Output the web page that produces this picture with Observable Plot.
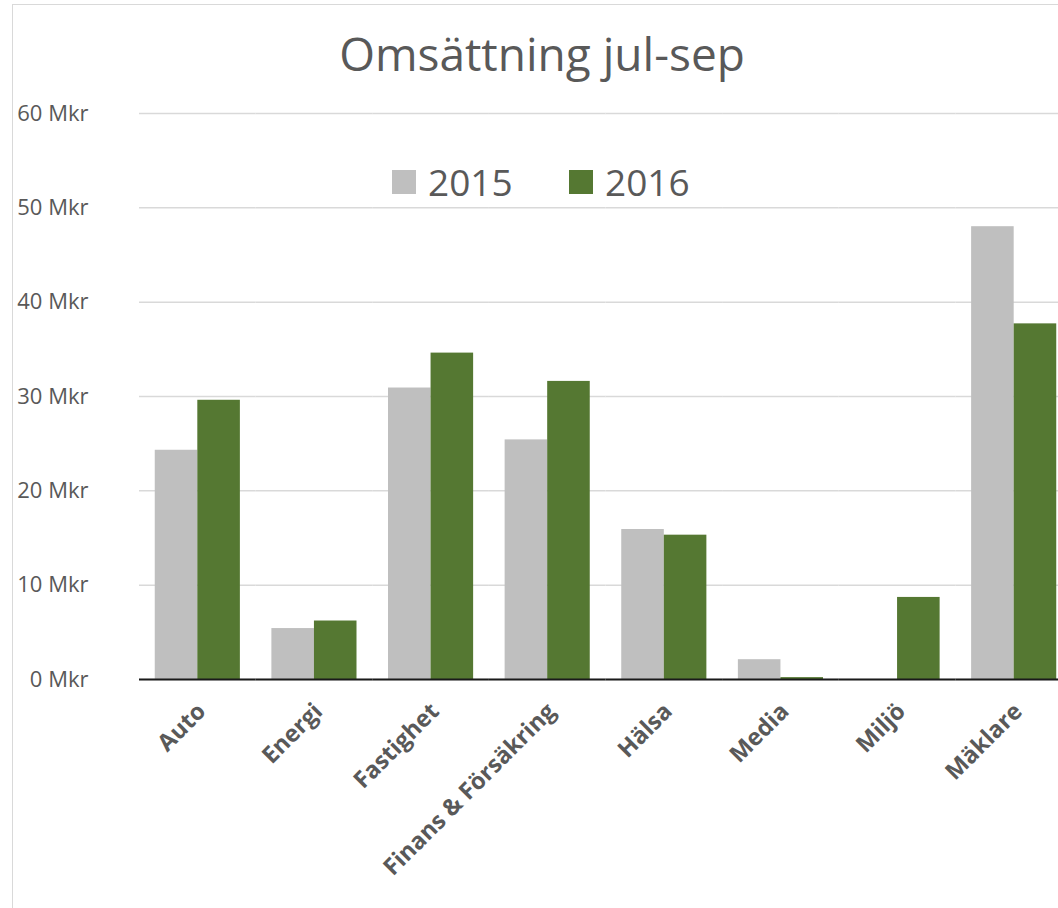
<!DOCTYPE html>
<html>
<head>
<meta charset="utf-8">
<script src="https://cdn.jsdelivr.net/npm/d3@7"></script>
<script src="https://cdn.jsdelivr.net/npm/@observablehq/plot@0.6"></script>
<style>
  html, body { margin: 0; padding: 0; background: #fff; overflow: hidden; width: 1058px; height: 908px; }
  #frame { position: absolute; left: 12px; top: 4px; width: 1100px; height: 960px; border: 1.5px solid #d9d9d9; box-sizing: border-box; }
  #chart { position: absolute; left: 0; top: 0; }
  #title { position: absolute; left: 0; width: 1084px; top: 30px; text-align: center; font-family: "Open Sans", sans-serif; font-size: 46px; color: #595959; line-height: 1; }
  .leg { position: absolute; top: 163px; font-family: "Open Sans", sans-serif; font-size: 37px; color: #595959; line-height: 1; display: flex; align-items: center; }
  .sw { width: 24px; height: 24px; display: inline-block; margin-right: 12px; }
</style>
</head>
<body>
<div id="frame"></div>
<div id="chart"></div>
<div id="title">Omsättning jul-sep</div>
<div id="legend"></div>
<script>
const categories = ["Auto", "Energi", "Fastighet", "Finans & Försäkring", "Hälsa", "Media", "Miljö", "Mäklare"];
const years = ["2015", "2016"];
const values2015 = [24.3, 5.4, 30.9, 25.4, 15.9, 2.1, 0, 48.0];
const values2016 = [29.6, 6.2, 34.6, 31.6, 15.3, 0.2, 8.7, 37.7];
const yTicks = [0, 10, 20, 30, 40, 50, 60];
const colors = ["#bfbfbf", "#557832"];

const data = [];
categories.forEach((c, i) => {
  data.push({category: c, year: years[0], value: values2015[i]});
  data.push({category: c, year: years[1], value: values2016[i]});
});

const chart = Plot.plot({
  width: 1075,
  height: 908,
  marginTop: 113,
  marginBottom: 229,
  marginLeft: 139,
  marginRight: 3,
  style: {maxWidth: "none", background: "transparent", overflow: "visible"},
  fx: {domain: categories, paddingInner: 0, paddingOuter: 0, round: false, label: null},
  x: {domain: years, axis: null, paddingInner: 0, paddingOuter: 0.37, round: false},
  y: {domain: [0, 60], label: null},
  color: {domain: years, range: colors},
  marks: [
    Plot.gridY(yTicks, {stroke: "#d9d9d9", strokeOpacity: 1, strokeWidth: 1.5}),
    Plot.axisY(yTicks, {tickSize: 0, tickPadding: 51, tickFormat: d => d + " Mkr", fontSize: 22, fill: "#595959", fontFamily: "Open Sans", label: null}),
    Plot.axisFx({anchor: "bottom", tickRotate: -45, tickSize: 0, tickPadding: 28, dx: 4, fontSize: 23.5, fontWeight: "bold", fill: "#595959", fontFamily: "Open Sans", label: null}),
    Plot.barY(data, {fx: "category", x: "year", y: "value", fill: "year"}),
    Plot.ruleY([0], {stroke: "#1a1a1a", strokeWidth: 2})
  ]
});
document.getElementById("chart").appendChild(chart);

const legend = document.getElementById("legend");
const legX = [392, 569];
years.forEach((y, i) => {
  const d = document.createElement("div");
  d.className = "leg";
  d.style.left = legX[i] + "px";
  d.innerHTML = `<span class="sw" style="background:${colors[i]}"></span>${y}`;
  legend.appendChild(d);
});
</script>
</body>
</html>
